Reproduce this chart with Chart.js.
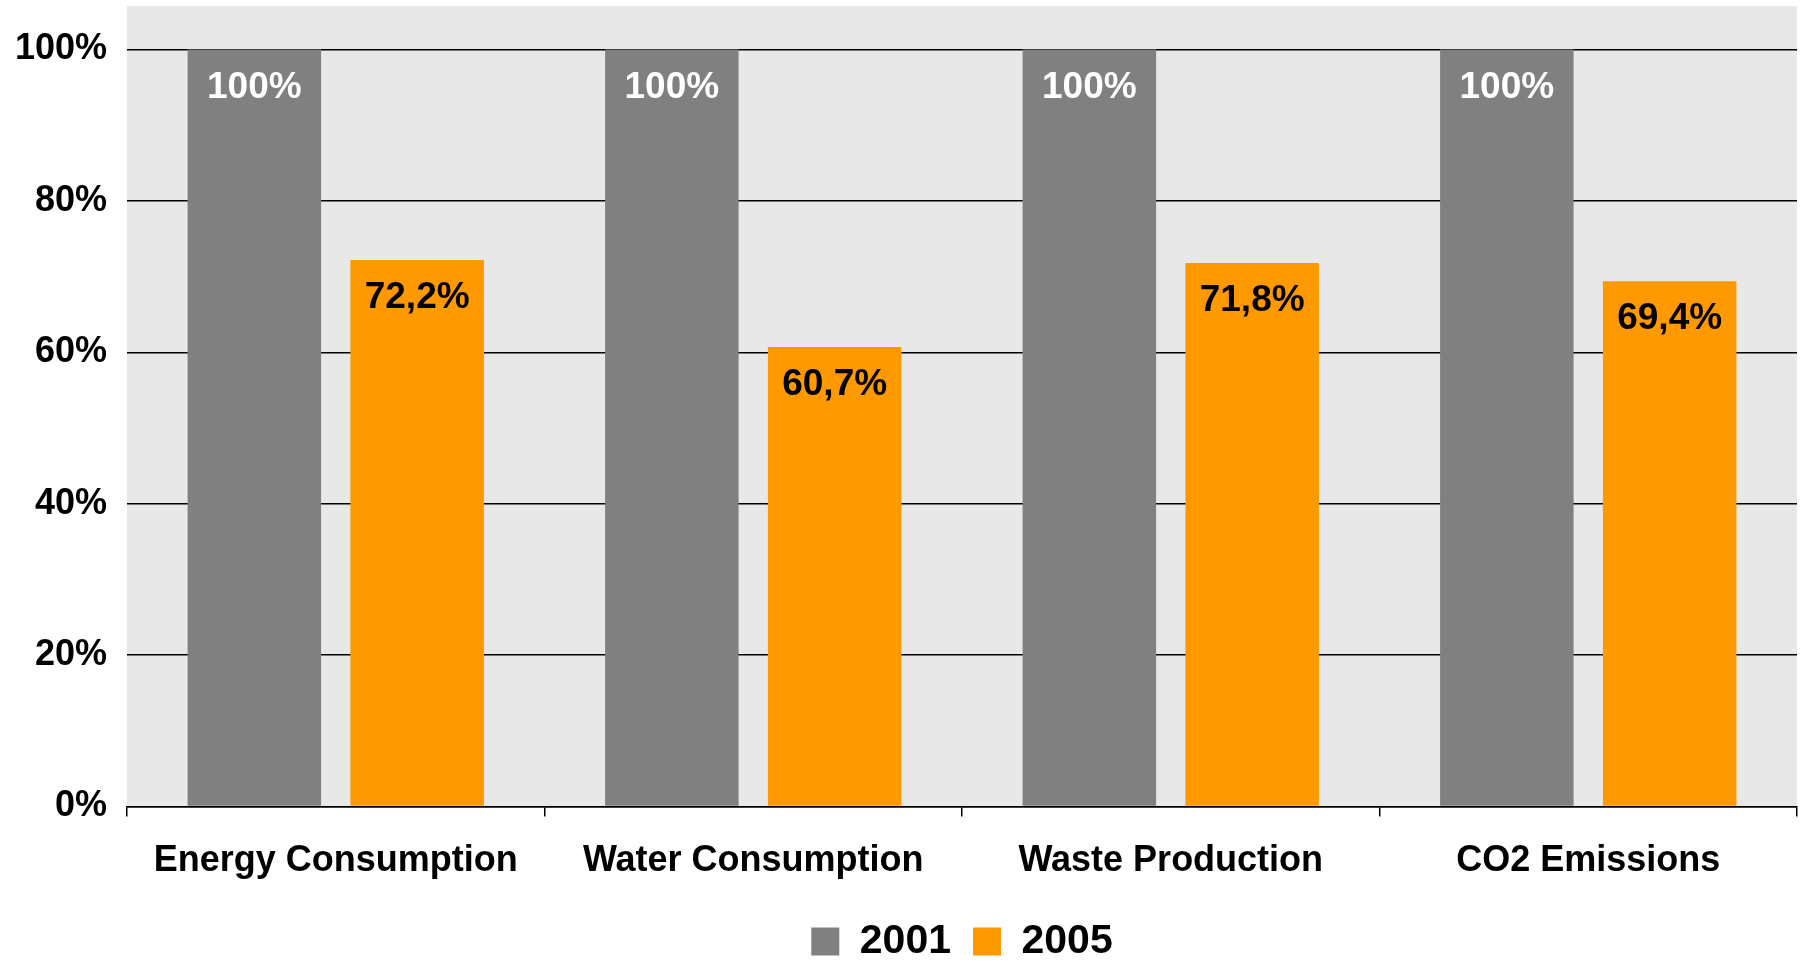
<!DOCTYPE html>
<html>
<head>
<meta charset="utf-8">
<title>Environmental indicators 2001 vs 2005</title>
<script src="https://cdn.jsdelivr.net/npm/chart.js@4/dist/chart.umd.min.js"></script>
<style>
  body { margin: 0; background: #fff; }
  #wrap { width: 1804px; height: 961px; }
</style>
</head>
<body>
<div id="wrap"><canvas id="envChart"></canvas></div>
<script>
const categories = ['Energy Consumption', 'Water Consumption', 'Waste Production', 'CO2 Emissions'];
const years = ['2001', '2005'];
const values2001 = [100, 100, 100, 100];
const values2005 = [72.2, 60.7, 71.8, 69.4];
const yTicks = [0, 20, 40, 60, 80, 100];

const FONT = "'Liberation Sans', Arial, sans-serif";

// grey panel behind the bars
const plotBackground = {
    id: 'plotBackground',
    beforeDraw(chart) {
        const { ctx, chartArea: a } = chart;
        ctx.save();
        ctx.fillStyle = '#e8e8e8';
        ctx.fillRect(a.left, a.top, a.right - a.left, a.bottom - a.top);
        ctx.restore();
    }
};

// value printed near the top of each bar
const barLabels = {
    id: 'barLabels',
    afterDatasetsDraw(chart) {
        const ctx = chart.ctx;
        ctx.save();
        ctx.font = 'bold 37px ' + FONT;
        ctx.textAlign = 'center';
        ctx.textBaseline = 'middle';
        chart.data.datasets.forEach((ds, i) => {
            chart.getDatasetMeta(i).data.forEach((bar, j) => {
                ctx.fillStyle = ds.labelColor;
                const txt = String(ds.data[j]).replace('.', ',') + '%';
                ctx.fillText(txt, bar.x, bar.y + 38);
            });
        });
        ctx.restore();
    }
};

new Chart(document.getElementById('envChart'), {
    type: 'bar',
    data: {
        labels: categories,
        datasets: [
            {
                label: years[0],
                data: values2001,
                backgroundColor: '#808080',
                labelColor: '#ffffff',
                categoryPercentage: 0.78,
                barPercentage: 0.82
            },
            {
                label: years[1],
                data: values2005,
                backgroundColor: '#ff9900',
                labelColor: '#000000',
                categoryPercentage: 0.78,
                barPercentage: 0.82
            }
        ]
    },
    options: {
        responsive: true,
        maintainAspectRatio: false,
        animation: false,
        layout: { padding: { left: 0, right: 7, top: 6, bottom: 0 } },
        plugins: {
            tooltip: { enabled: false },
            legend: {
                position: 'bottom',
                fullSize: false,
                maxHeight: 62,
                labels: {
                    boxWidth: 28,
                    boxHeight: 28,
                    padding: 22,
                    color: '#000',
                    font: { family: FONT, size: 41, weight: 'bold' }
                }
            }
        },
        scales: {
            x: {
                grid: {
                    offset: true,
                    drawOnChartArea: false,
                    color: '#000',
                    lineWidth: 1.5,
                    tickLength: 10
                },
                border: { color: '#000', width: 1.5 },
                ticks: {
                    color: '#000',
                    padding: 23,
                    font: { family: FONT, size: 36, weight: 'bold' }
                },
                afterFit(scale) { scale.height = 92.5; }
            },
            y: {
                min: 0,
                max: 105.75,
                grid: { color: '#000', lineWidth: 1.5, drawTicks: false },
                border: { display: false },
                ticks: {
                    stepSize: 20,
                    padding: 20,
                    color: '#000',
                    font: { family: FONT, size: 36, weight: 'bold' },
                    callback: (v) => v + '%'
                },
                afterBuildTicks(scale) {
                    scale.ticks = yTicks.map(v => ({ value: v }));
                },
                afterFit(scale) {
                    scale.width = 127;
                    scale.paddingTop = 0;
                    scale.paddingBottom = 0;
                }
            }
        }
    },
    plugins: [plotBackground, barLabels]
});
</script>
</body>
</html>
